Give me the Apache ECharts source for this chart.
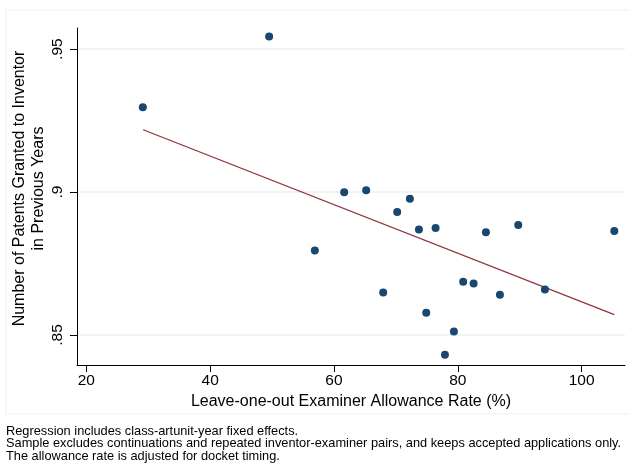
<!DOCTYPE html>
<html>
<head>
<meta charset="utf-8">
<script src="https://cdn.jsdelivr.net/npm/echarts@6/dist/echarts.min.js"></script>
<style>
html,body{margin:0;padding:0;background:#fff;}
#c{width:629px;height:466px;}
</style>
</head>
<body>
<div id="c"></div>
<script>
// Binned scatter: leave-one-out examiner allowance rate (%) vs. patents granted to inventor
const allowanceRate = [29.13, 49.53, 56.91, 61.65, 65.20, 67.95, 70.21, 72.26, 73.72, 74.90,
                       76.41, 77.92, 79.37, 80.87, 82.55, 84.54, 86.80, 89.76, 94.07, 105.27];
const priorPatents  = [0.9297, 0.9544, 0.8796, 0.8999, 0.9006, 0.8649, 0.8930, 0.8977, 0.8869, 0.8578,
                       0.8874, 0.8431, 0.8512, 0.8686, 0.8680, 0.8859, 0.8641, 0.8885, 0.8659, 0.8864];
// Fitted regression line endpoints
const fitX = [29.18, 105.27];
const fitY = [0.9218, 0.8571];
const xTicks = [20, 40, 60, 80, 100];
const yTicks = [0.85, 0.9, 0.95];
const yTickLabels = ['.85', '.9', '.95'];
const notes = [
  'Regression includes class-artunit-year fixed effects.',
  'Sample excludes continuations and repeated inventor-examiner pairs, and keeps accepted applications only.',
  'The allowance rate is adjusted for docket timing.'
];

const chart = echarts.init(document.getElementById('c'), null, {renderer: 'canvas'});
const font = 'Liberation Sans, Arial, sans-serif';
const scatterData = allowanceRate.map((x, i) => [x, priorPatents[i]]);
const fitData = fitX.map((x, i) => [x, fitY[i]]);

chart.setOption({
  animation: false,
  backgroundColor: '#ffffff',
  grid: {left: 77, top: 28, right: 4, bottom: 101, containLabel: false, outerBoundsMode: 'none'},
  xAxis: {
    type: 'value', min: 18.5, max: 107,
    axisLine: {show: true, lineStyle: {color: '#000', width: 1}},
    axisTick: {show: true, length: 7, lineStyle: {color: '#000'}, customValues: xTicks},
    axisLabel: {customValues: xTicks, color: '#000', fontSize: 15.5, fontFamily: font, margin: 8},
    splitLine: {show: false},
    name: 'Leave-one-out Examiner Allowance Rate (%)',
    nameLocation: 'middle', nameGap: 27,
    nameTextStyle: {color: '#000', fontSize: 16, fontFamily: font}
  },
  yAxis: {
    type: 'value', min: 0.8395, max: 0.9574,
    axisLine: {show: true, lineStyle: {color: '#000', width: 1}},
    axisTick: {show: true, length: 7, lineStyle: {color: '#000'}, customValues: yTicks},
    axisLabel: {
      customValues: yTicks, color: '#000', fontSize: 15.5, fontFamily: font, rotate: 90, margin: 11,
      formatter: v => { const i = yTicks.findIndex(t => Math.abs(t - v) < 1e-6); return i >= 0 ? yTickLabels[i] : ''; }
    },
    splitLine: {show: false},
    name: 'Number of Patents Granted to Inventor\nin Previous Years',
    nameLocation: 'middle', nameGap: 29, nameRotate: 90, nameMoveOverlap: false,
    nameTextStyle: {color: '#000', fontSize: 16, fontFamily: font, lineHeight: 19, align: 'center',
                    padding: [0, 0, 0, 16]}
  },
  series: [
    {
      type: 'line', data: [], silent: true, z: 0,
      markLine: {
        silent: true, symbol: 'none', label: {show: false}, z: 0,
        lineStyle: {color: '#eaf0f1', width: 1.5, type: 'solid'},
        data: yTicks.map(v => ({yAxis: v}))
      }
    },
    {
      type: 'scatter', data: scatterData, symbol: 'circle', symbolSize: 8,
      itemStyle: {color: '#1a476f', opacity: 1}, z: 5
    },
    {
      type: 'line', data: fitData, showSymbol: false, symbol: 'none',
      lineStyle: {color: '#90353b', width: 1.3}, z: 3
    }
  ],
  graphic: [
    {type: 'rect', shape: {x: 6, y: 10, width: 640, height: 404},
     style: {fill: 'none', stroke: '#eef2f2', lineWidth: 1}, z: -10, silent: true},
    {type: 'text', left: 6, top: 425,
     style: {text: notes.join('\n'), fill: '#000', font: '12.8px ' + font, lineHeight: 12.3}}
  ]
});
</script>
</body>
</html>
